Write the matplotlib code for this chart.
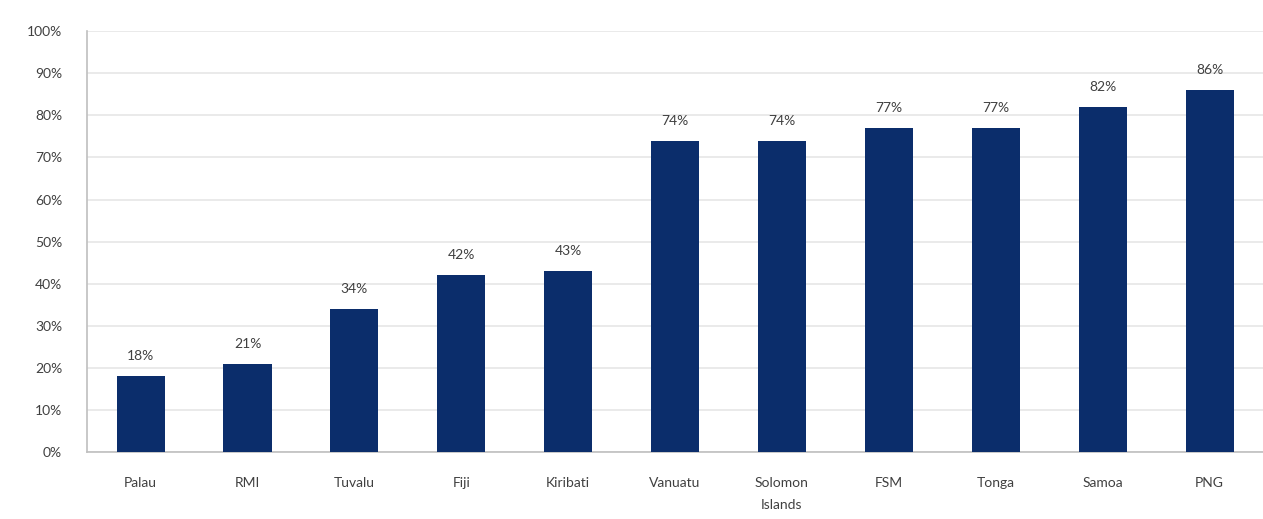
import matplotlib
matplotlib.use("Agg")
import matplotlib.pyplot as plt
from matplotlib.ticker import FuncFormatter, MultipleLocator

countries = ["Palau", "RMI", "Tuvalu", "Fiji", "Kiribati", "Vanuatu",
             "Solomon\nIslands", "FSM", "Tonga", "Samoa", "PNG"]
shares = [18, 21, 34, 42, 43, 74, 74, 77, 77, 82, 86]

plt.rcParams["font.family"] = ["Lato", "DejaVu Sans"]

fig = plt.figure(figsize=(12.63, 5.19), dpi=100)
ax = fig.add_axes([0.069, 0.129, 0.931, 0.811])

x = range(len(countries))
bars = ax.bar(x, shares, width=0.45, color="#0b2d6b", zorder=3)

for rect, v in zip(bars, shares):
    ax.annotate(f"{v}%", (rect.get_x() + rect.get_width() / 2, v),
                xytext=(0, 10), textcoords="offset points",
                ha="center", va="bottom", fontsize=10, color="#404040")

ax.set_xlim(-0.5, len(countries) - 0.5)
ax.set_ylim(0, 100)
ax.yaxis.set_major_locator(MultipleLocator(10))
ax.yaxis.set_major_formatter(FuncFormatter(lambda v, _: f"{v:.0f}%"))
ax.set_xticks(list(x))
ax.set_xticklabels(countries, linespacing=2.0)

ax.grid(axis="y", color="#e6e6e6", linewidth=1.2, zorder=0)
ax.tick_params(axis="both", length=0, labelsize=10, labelcolor="#404040")
ax.tick_params(axis="x", pad=18)
ax.tick_params(axis="y", pad=18)

for side in ("top", "right"):
    ax.spines[side].set_visible(False)
for side in ("left", "bottom"):
    ax.spines[side].set_color("#bfbfbf")
    ax.spines[side].set_linewidth(1.2)

fig.savefig("out.png", dpi=100, facecolor="white")
